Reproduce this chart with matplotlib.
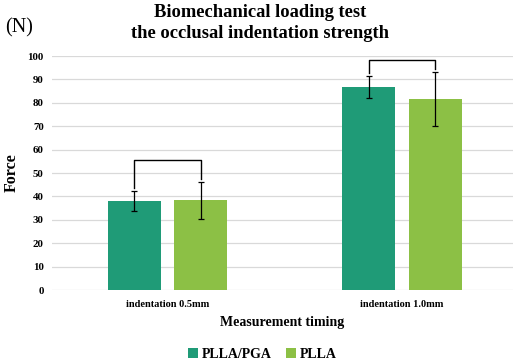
import matplotlib.pyplot as plt
import numpy as np

plt.rcParams['font.family'] = ['Liberation Serif', 'DejaVu Serif']

categories = ['indentation 0.5mm', 'indentation 1.0mm']
series = ['PLLA/PGA', 'PLLA']
means = {'PLLA/PGA': [38.0, 86.7], 'PLLA': [38.3, 81.8]}
errs = {'PLLA/PGA': [4.4, 4.8], 'PLLA': [7.8, 11.6]}
colors = {'PLLA/PGA': '#1f9b77', 'PLLA': '#8cc045'}
# bracket heights (top of bracket) per group
bracket_top = [55.8, 98.3]

fig = plt.figure(figsize=(5.25, 3.64), dpi=100)
ax = fig.add_axes([0.099, 0.203, 0.878, 0.643])

x = np.arange(len(categories))
width = 0.226
offset = 0.141

for i, s in enumerate(series):
    pos = x + (offset if i else -offset)
    ax.bar(pos, means[s], width, color=colors[s], label=s, zorder=2)
    ax.errorbar(pos, means[s], yerr=errs[s], fmt='none', ecolor='black',
                elinewidth=0.9, capsize=2.5, capthick=0.9, zorder=3)

# significance brackets
for g in range(len(categories)):
    xl = x[g] - offset
    xr = x[g] + offset
    yl = means['PLLA/PGA'][g] + errs['PLLA/PGA'][g] + 1.2
    yr = means['PLLA'][g] + errs['PLLA'][g] + 1.2
    top = bracket_top[g]
    ax.plot([xl, xl, xr, xr], [yl, top, top, yr], color='black', lw=1.0, zorder=3)

ax.set_xlim(-0.4925, 1.473)
ax.set_ylim(0, 100)
ax.set_yticks(range(0, 101, 10))
ax.set_xticks(x)
ax.set_xticklabels(categories, fontsize=7.5, fontweight='bold')
for lab in ax.get_yticklabels():
    lab.set_fontweight('bold')
    lab.set_fontsize(7.8)
ax.tick_params(length=0, pad=6)
ax.tick_params(axis='x', pad=7)
ax.grid(axis='y', color='#d9d9d9', lw=0.9, zorder=0)
ax.set_axisbelow(True)
for sp in ax.spines.values():
    sp.set_visible(False)

ax.set_xlabel('Measurement timing', fontsize=10, fontweight='bold', labelpad=5)
ax.set_ylabel('Force', fontsize=11.5, fontweight='bold')
ax.yaxis.set_label_coords(-0.069, 0.5)

fig.text(0.495, 0.988, 'Biomechanical loading test\nthe occlusal indentation strength',
         ha='center', va='top', fontsize=13.3, fontweight='bold', linespacing=1.25)
fig.text(0.01, 0.924, '(N)', fontsize=14.5, ha='left', va='center')

fig.legend(loc='lower center', bbox_to_anchor=(0.5, -0.025), ncol=2, frameon=False,
           prop={'weight': 'bold', 'size': 10}, handlelength=0.7, handleheight=0.7,
           handletextpad=0.3, columnspacing=1.0)

fig.savefig('out.png', dpi=100)
